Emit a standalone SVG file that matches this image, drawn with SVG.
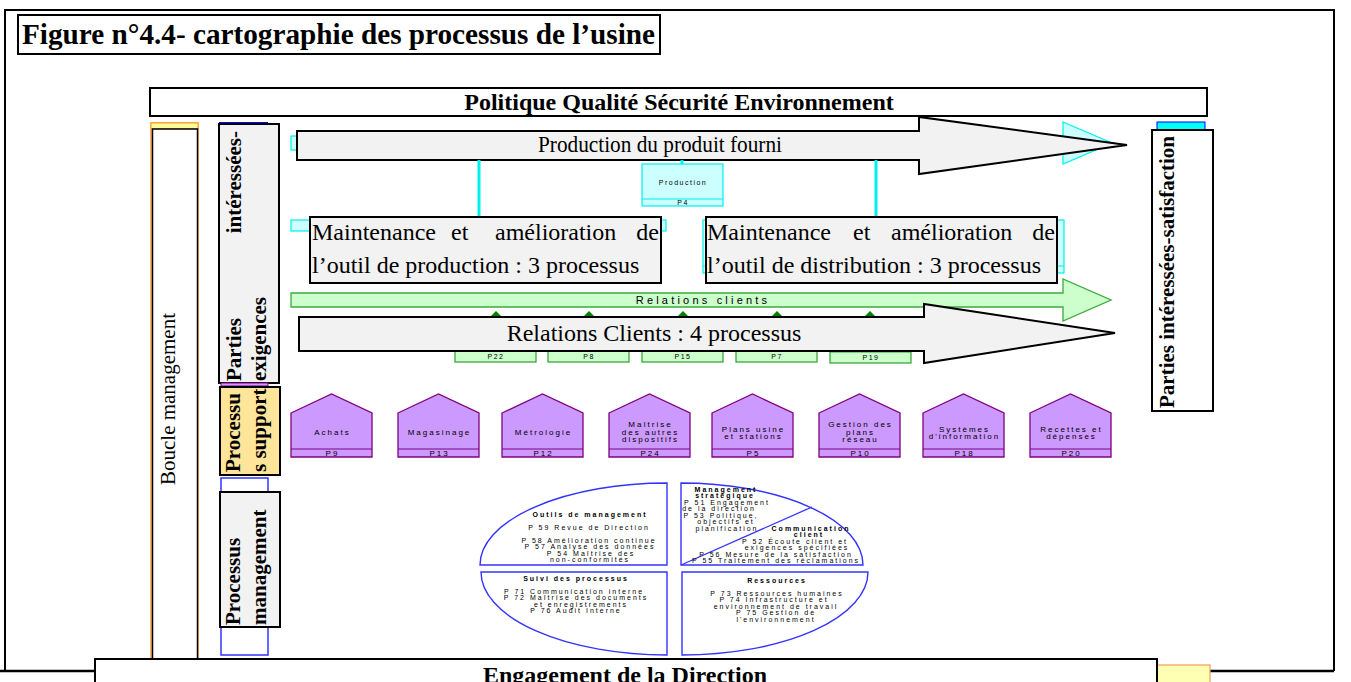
<svg xmlns="http://www.w3.org/2000/svg" width="1351" height="682" viewBox="0 0 1351 682">
<defs>
<style>
.serif{font-family:"Liberation Serif","Times New Roman",serif;fill:#000}
.b{font-weight:bold}
.gray{fill:#f2f2f2;stroke:#000;stroke-width:2}
.house{fill:#cc99ff;stroke:#800080;stroke-width:1.3}
.hdiv{stroke:#800080;stroke-width:1}
.hl{font-family:"Liberation Sans",Arial,sans-serif;font-size:8px;letter-spacing:2px;text-anchor:middle;fill:#000}
.pie{fill:#fff;stroke:#3333ff;stroke-width:1.4}
.pt{font-family:"Liberation Sans",Arial,sans-serif;font-size:7px;letter-spacing:2px;text-anchor:middle;fill:#000}
.cyl{stroke:#00f0f0;stroke-width:3}
.cyb{fill:#ccffff;stroke:#00eeee;stroke-width:1.2}
.gb{fill:#ccffcc;stroke:#2e9e2e;stroke-width:1.2}
.gt{font-family:"Liberation Sans",Arial,sans-serif;font-size:7px;letter-spacing:1.5px;text-anchor:middle;fill:#000}
.tri{fill:#008000}
</style>
</defs>
<rect width="1351" height="682" fill="#fff"/>

<g id="frame">
<path d="M5,671 V10 H1334 V671" fill="none" stroke="#000" stroke-width="2"/>
<line x1="0" y1="671" x2="1334" y2="671" stroke="#000" stroke-width="2.5"/>
</g>

<g id="title">
<rect x="18" y="15" width="642" height="39" fill="#fff" stroke="#000" stroke-width="2"/>
<text class="serif b" x="22" y="44" font-size="29" textLength="633" lengthAdjust="spacingAndGlyphs">Figure n°4.4- cartographie des processus de l’usine</text>
</g>

<g id="politique">
<rect x="150" y="88" width="1057" height="28" fill="#fff" stroke="#000" stroke-width="2"/>
<text class="serif b" x="679" y="110" font-size="24" text-anchor="middle">Politique Qualité Sécurité Environnement</text>
</g>

<g id="boucle-management">
<rect x="151" y="123" width="47" height="536" fill="none" stroke="#ff9933" stroke-width="1.5"/>
<rect x="151" y="123" width="47" height="6" fill="#ffff99" stroke="#ff9933" stroke-width="1"/>
<rect x="152.5" y="129" width="45" height="530" fill="#fff" stroke="#000" stroke-width="1.5"/>
<text class="serif" font-size="21" text-anchor="middle" transform="translate(175,399) rotate(-90)">Boucle management</text>
</g>

<g id="parties-exigences">
<line x1="219" y1="123" x2="268" y2="123" stroke="#0000ff" stroke-width="2"/>
<rect x="219" y="124" width="60" height="259" class="gray"/>
<text class="serif b" font-size="21" transform="translate(241,381) rotate(-90)">Parties</text>
<text class="serif b" font-size="21" text-anchor="end" transform="translate(241,131) rotate(-90)">intéressées-</text>
<text class="serif b" font-size="21" transform="translate(266,381) rotate(-90)">exigences</text>
</g>

<g id="processus-support">
<rect x="221" y="383" width="47" height="3" fill="#cc99ff" stroke="#800080" stroke-width="1"/>
<rect x="220" y="387" width="60" height="88" fill="#ffe599" stroke="#000" stroke-width="2"/>
<text class="serif b" font-size="21" transform="translate(240,472) rotate(-90)">Processu</text>
<text class="serif b" font-size="21" transform="translate(266,472) rotate(-90)">s support</text>
</g>

<g id="processus-management">
<rect x="221" y="478" width="47" height="177" fill="none" stroke="#3333ff" stroke-width="1.5"/>
<rect x="220" y="492" width="60" height="135" class="gray"/>
<text class="serif b" font-size="21" transform="translate(240,625) rotate(-90)">Processus</text>
<text class="serif b" font-size="21" transform="translate(266,625) rotate(-90)">management</text>
</g>

<g id="parties-satisfaction">
<rect x="1157" y="122" width="48" height="8" fill="#00ffff" stroke="#0000ff" stroke-width="1"/>
<rect x="1152" y="130" width="61" height="281" fill="#fff" stroke="#000" stroke-width="2"/>
<text class="serif b" font-size="21" transform="translate(1174,408) rotate(-90)">Parties intéressées-satisfaction</text>
</g>

<g id="production-arrow">
<rect x="291" y="136" width="20" height="14" class="cyb"/>
<polygon points="1063,122 1112,143 1063,164" class="cyb"/>
<polygon points="297,131 919,131 919,117 1127,145 919,174 919,160 297,160" class="gray"/>
<text class="serif" x="660" y="152" font-size="24" text-anchor="middle" textLength="244" lengthAdjust="spacingAndGlyphs">Production du produit fourni</text>
</g>

<g id="connectors">
<line x1="479" y1="160" x2="479" y2="217" class="cyl"/>
<line x1="876" y1="160" x2="876" y2="217" class="cyl"/>
<line x1="682" y1="160" x2="682" y2="164" class="cyl"/>
<polygon points="490,317 496,311 502,317" class="tri"/>
<polygon points="583,317 589,311 595,317" class="tri"/>
<polygon points="677,317 683,311 689,317" class="tri"/>
<polygon points="771,317 777,311 783,317" class="tri"/>
<polygon points="864,317 870,311 876,317" class="tri"/>
</g>

<g id="production-box">
<rect x="642" y="164" width="81" height="42" class="cyb"/>
<line x1="642" y1="199" x2="723" y2="199" stroke="#00eeee" stroke-width="1"/>
<text class="gt" x="683" y="185" font-size="7.5">Production</text>
<text class="gt" x="683" y="205">P4</text>
</g>

<g id="maintenance-production">
<rect x="291" y="220" width="375" height="11" class="cyb"/>
<rect x="310" y="217" width="351" height="66" class="gray"/>
<text class="serif" font-size="24" y="240"><tspan x="312">Maintenance</tspan><tspan x="451">et</tspan><tspan x="495">amélioration</tspan></text>
<text class="serif" font-size="24" x="659" y="240" text-anchor="end">de</text>
<text class="serif" font-size="24" x="312" y="273">l’outil de production : 3 processus</text>
</g>

<g id="maintenance-distribution">
<rect x="703" y="220" width="361" height="53" class="cyb"/>
<line x1="703" y1="266" x2="1064" y2="266" stroke="#00eeee" stroke-width="1"/>
<rect x="706" y="217" width="351" height="66" class="gray"/>
<text class="serif" font-size="24" y="240"><tspan x="707">Maintenance</tspan><tspan x="853">et</tspan><tspan x="891">amélioration</tspan></text>
<text class="serif" font-size="24" x="1055" y="240" text-anchor="end">de</text>
<text class="serif" font-size="24" x="707" y="273">l’outil de distribution : 3 processus</text>
</g>

<g id="relations-clients-flux">
<polygon points="291,293 1063,293 1063,279 1111,300 1063,321 1063,307 291,307" fill="#ccffcc" stroke="#3cab3c" stroke-width="1.3"/>
<text x="703" y="304" font-family="Liberation Sans, Arial, sans-serif" font-size="11" letter-spacing="3.2" text-anchor="middle">Relations clients</text>
</g>

<g id="relations-clients-processus">
<rect x="455" y="340" width="81" height="22" class="gb"/>
<rect x="548" y="340" width="81" height="22" class="gb"/>
<rect x="642" y="340" width="81" height="22" class="gb"/>
<rect x="736" y="340" width="81" height="22" class="gb"/>
<rect x="830" y="341" width="81" height="22" class="gb"/>
<g stroke="#2e9e2e" stroke-width="1">
<line x1="455" y1="351" x2="536" y2="351"/>
<line x1="548" y1="351" x2="629" y2="351"/>
<line x1="642" y1="351" x2="723" y2="351"/>
<line x1="736" y1="351" x2="817" y2="351"/>
<line x1="830" y1="352" x2="911" y2="352"/>
</g>
<text class="gt" x="496" y="359">P22</text>
<text class="gt" x="589" y="359">P8</text>
<text class="gt" x="683" y="359">P15</text>
<text class="gt" x="777" y="359">P7</text>
<text class="gt" x="871" y="360">P19</text>
<polygon points="299,317 924,317 924,304 1115,333 924,363 924,351 299,351" class="gray"/>
<text class="serif" x="654" y="341" font-size="24" text-anchor="middle">Relations Clients : 4 processus</text>
</g>

<g id="p9">
<path d="M291,413 L331.5,394 L372,413 V457 H291 Z" class="house"/>
<line x1="291" y1="449" x2="372" y2="449" class="hdiv"/>
<text class="hl" x="332.5" y="435">Achats</text>
<text class="hl" x="332.5" y="456">P9</text>
</g>
<g id="p13">
<path d="M398,413 L438.5,394 L479,413 V457 H398 Z" class="house"/>
<line x1="398" y1="449" x2="479" y2="449" class="hdiv"/>
<text class="hl" x="439.5" y="435">Magasinage</text>
<text class="hl" x="439.5" y="456">P13</text>
</g>
<g id="p12">
<path d="M502,413 L542.5,394 L583,413 V457 H502 Z" class="house"/>
<line x1="502" y1="449" x2="583" y2="449" class="hdiv"/>
<text class="hl" x="543.5" y="435">Métrologie</text>
<text class="hl" x="543.5" y="456">P12</text>
</g>
<g id="p24">
<path d="M609,413 L649.5,394 L690,413 V457 H609 Z" class="house"/>
<line x1="609" y1="449" x2="690" y2="449" class="hdiv"/>
<text class="hl" x="650.5" y="427">Maîtrise</text>
<text class="hl" x="650.5" y="434.5">des autres</text>
<text class="hl" x="650.5" y="442">dispositifs</text>
<text class="hl" x="650.5" y="456">P24</text>
</g>
<g id="p5">
<path d="M712,413 L752.5,394 L793,413 V457 H712 Z" class="house"/>
<line x1="712" y1="449" x2="793" y2="449" class="hdiv"/>
<text class="hl" x="753.5" y="432">Plans usine</text>
<text class="hl" x="753.5" y="439">et stations</text>
<text class="hl" x="753.5" y="456">P5</text>
</g>
<g id="p10">
<path d="M819,413 L859.5,394 L900,413 V457 H819 Z" class="house"/>
<line x1="819" y1="449" x2="900" y2="449" class="hdiv"/>
<text class="hl" x="860.5" y="427">Gestion des</text>
<text class="hl" x="860.5" y="434.5">plans</text>
<text class="hl" x="860.5" y="442">réseau</text>
<text class="hl" x="860.5" y="456">P10</text>
</g>
<g id="p18">
<path d="M923,413 L963.5,394 L1004,413 V457 H923 Z" class="house"/>
<line x1="923" y1="449" x2="1004" y2="449" class="hdiv"/>
<text class="hl" x="964.5" y="432">Systèmes</text>
<text class="hl" x="964.5" y="439">d'information</text>
<text class="hl" x="964.5" y="456">P18</text>
</g>
<g id="p20">
<path d="M1030,413 L1070.5,394 L1111,413 V457 H1030 Z" class="house"/>
<line x1="1030" y1="449" x2="1111" y2="449" class="hdiv"/>
<text class="hl" x="1071.5" y="432">Recettes et</text>
<text class="hl" x="1071.5" y="439">dépenses</text>
<text class="hl" x="1071.5" y="456">P20</text>
</g>

<g id="outils-management">
<path d="M667,565 L480,565 A187,82 0 0 1 667,483 Z" class="pie"/>
<text class="pt b" x="590" y="516.5">Outils de management</text>
<text class="pt" x="589" y="529.5">P 59 Revue de Direction</text>
<text class="pt" x="589" y="542.5">P 58 Amélioration continue</text>
<text class="pt" x="590" y="549">P 57 Analyse des données</text>
<text class="pt" x="591" y="555.5">P 54 Maîtrise des</text>
<text class="pt" x="590" y="562">non-conformités</text>
</g>

<g id="management-strategique">
<path d="M681,565 L681,483 A182,82 0 0 1 863,565 Z" class="pie"/>
<line x1="681" y1="565" x2="812" y2="507" stroke="#3333ff" stroke-width="1.3"/>
<text class="pt b" x="726" y="491.5">Management</text>
<text class="pt b" x="725" y="498">stratégique</text>
<text class="pt" x="727" y="504.5">P 51 Engagement</text>
<text class="pt" x="719" y="511">de la direction</text>
<text class="pt" x="721" y="517.5">P 53 Politique,</text>
<text class="pt" x="726" y="524">objectifs et</text>
<text class="pt" x="727" y="530.5">planification</text>
<text class="pt b" x="811" y="530.5">Communication</text>
<text class="pt b" x="809" y="537">client</text>
<text class="pt" x="795" y="543.5">P 52 Écoute client et</text>
<text class="pt" x="797" y="550">exigences spécifiées</text>
<text class="pt" x="776" y="556.5">P 56 Mesure de la satisfaction</text>
<text class="pt" x="776" y="563">P 55 Traitement des réclamations</text>
</g>

<g id="suivi-processus">
<path d="M667,572 L481,572 A186,83 0 0 0 667,655 Z" class="pie"/>
<text class="pt b" x="576" y="580.5">Suivi des processus</text>
<text class="pt" x="574" y="593.5">P 71 Communication interne</text>
<text class="pt" x="576" y="600">P 72 Maîtrise des documents</text>
<text class="pt" x="581" y="606.5">et enregistrements</text>
<text class="pt" x="576" y="613">P 76 Audit Interne</text>
</g>

<g id="ressources">
<path d="M682,572 L868,572 A186,83 0 0 1 682,655 Z" class="pie"/>
<text class="pt b" x="777" y="582.5">Ressources</text>
<text class="pt" x="777" y="595.5">P 73 Ressources humaines</text>
<text class="pt" x="774" y="602">P 74 Infrastructure et</text>
<text class="pt" x="776" y="608.5">environnement de travail</text>
<text class="pt" x="776" y="615">P 75 Gestion de</text>
<text class="pt" x="776" y="621.5">l'environnement</text>
</g>

<g id="engagement">
<rect x="1157" y="665" width="53" height="20" fill="#ffffb3" stroke="#f4a460" stroke-width="1.3"/>
<rect x="95" y="659" width="1062" height="30" fill="#fff" stroke="#000" stroke-width="2"/>
<text class="serif b" x="625" y="683" font-size="24" text-anchor="middle">Engagement de la Direction</text>
</g>
</svg>
